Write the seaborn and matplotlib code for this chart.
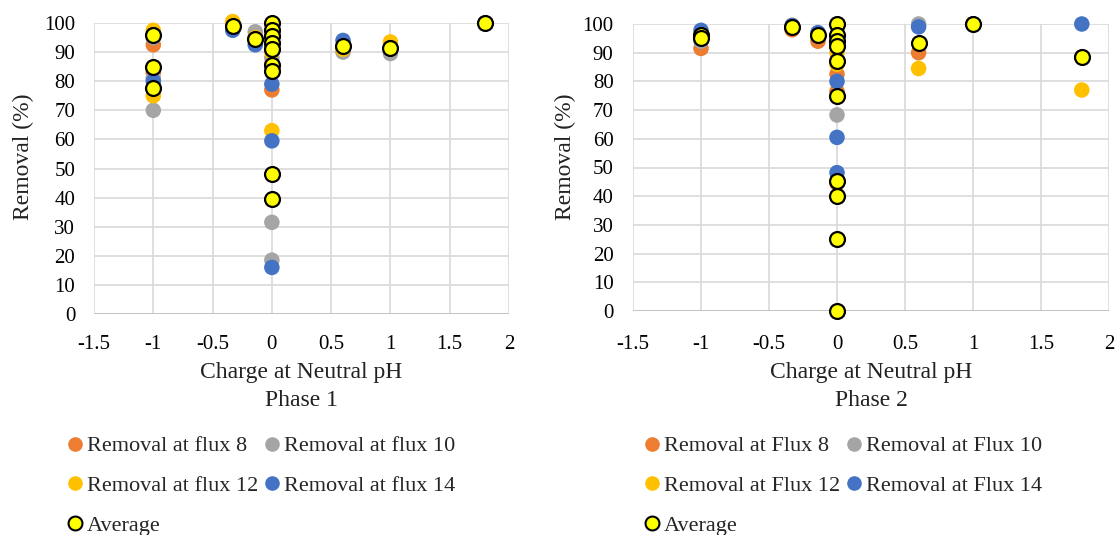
import numpy as np
import pandas as pd
import seaborn as sns
import matplotlib
matplotlib.use("Agg")
import matplotlib.pyplot as plt
from matplotlib.lines import Line2D

# ---------------- Data ----------------
# Phase 1
p1_f8_x = [-1, -1, -0.33, -0.14, 0, 0, 0, 0, 0.6, 1, 1.8]
p1_f8_y = [92.5, 83, 99, 95, 77, 97, 92, 86, 91, 91, 100]
p1_f10_x = [-1, -1, -1, -0.33, -0.14, 0, 0, 0, 0, 0.6, 1, 1.8]
p1_f10_y = [95, 81, 70, 99, 97, 31.5, 18.5, 95, 88, 90, 89.5, 100]
p1_f12_x = [-1, -1, -0.33, -0.14, 0, 0, 0, 0.6, 1, 1.8]
p1_f12_y = [97.5, 75, 100.5, 95, 63, 96, 90, 91, 93.5, 100]
p1_f14_x = [-1, -1, -0.33, -0.14, 0, 0, 0, 0, 0.6, 1, 1.8]
p1_f14_y = [96, 80, 97.5, 92.5, 79, 59.5, 16, 94, 94, 91.5, 100]
p1_avg_x = [-1, -1, -1, -0.33, -0.14, 0, 0, 0, 0, 0, 0, 0, 0, 0, 0.6, 1, 1.8]
p1_avg_y = [96, 85, 77.5, 99, 94.5, 100, 97.5, 95.5, 93, 91, 85.5, 83.5, 48, 39.5, 92, 91.5, 100]

# Phase 2
p2_f8_x = [-1, -0.33, -0.14, 0, 0, 0, 0, 0.6, 1, 1.8]
p2_f8_y = [91.5, 98, 94, 82.5, 76.5, 44.5, 95, 90, 100, 88.5]
p2_f10_x = [-1, -0.33, -0.14, 0, 0, 0.6, 1, 1.8]
p2_f10_y = [94, 99, 96, 68.3, 93, 100, 100, 88.5]
p2_f12_x = [-1, -0.33, -0.14, 0, 0, 0.6, 1, 1.8]
p2_f12_y = [96, 99.5, 96, 90, 86, 84.5, 100, 77]
p2_f14_x = [-1, -0.33, -0.14, 0, 0, 0, 0.6, 1, 1.8]
p2_f14_y = [97.8, 99.5, 97, 80, 60.5, 48.2, 99, 100, 100]
p2_avg_x = [-1, -1, -0.33, -0.14, 0, 0, 0, 0, 0, 0, 0, 0, 0, 0, 0.6, 1, 1.8]
p2_avg_y = [96, 95, 99, 96, 100, 96, 94, 92.5, 87, 75, 45.3, 40, 25, 0, 93.5, 100, 88.5]

series_keys = ["f8", "f10", "f12", "f14"]
flux_values = [8, 10, 12, 14]
colors = {"f8": "#ED7D31", "f10": "#A5A5A5", "f12": "#FFC000", "f14": "#4472C4"}

def tidy(parts):
    rows = []
    for key, xs, ys in parts:
        for x, y in zip(xs, ys):
            rows.append({"series": key, "x": x, "y": y})
    return pd.DataFrame(rows)

df1 = tidy([("f8", p1_f8_x, p1_f8_y), ("f10", p1_f10_x, p1_f10_y),
            ("f12", p1_f12_x, p1_f12_y), ("f14", p1_f14_x, p1_f14_y)])
df2 = tidy([("f8", p2_f8_x, p2_f8_y), ("f10", p2_f10_x, p2_f10_y),
            ("f12", p2_f12_x, p2_f12_y), ("f14", p2_f14_x, p2_f14_y)])
avg1 = pd.DataFrame({"x": p1_avg_x, "y": p1_avg_y})
avg2 = pd.DataFrame({"x": p2_avg_x, "y": p2_avg_y})

sns.set_theme(style="white")
plt.rcParams["font.family"] = ["Liberation Serif", "DejaVu Serif"]

W, H = 1116, 535
fig = plt.figure(figsize=(W / 100, H / 100), dpi=100)
ax1 = fig.add_axes([94 / W, 1 - 314 / H, 415 / W, 291 / H])
ax2 = fig.add_axes([633 / W, 1 - 311 / H, 476 / W, 287 / H])

def draw(ax, df, avg, phase, xpad, ypad, ylab_xy, xlab_y):
    for key in series_keys:
        sub = df[df["series"] == key]
        sns.scatterplot(data=sub, x="x", y="y", ax=ax, color=colors[key], s=125,
                        edgecolor="none", linewidth=0, clip_on=False, zorder=3, legend=False)
    sns.scatterplot(data=avg, x="x", y="y", ax=ax, color="#FFFF00", s=115,
                    edgecolor="black", linewidth=1.6, clip_on=False, zorder=4, legend=False)
    ax.set_xlim(-1.5, 2)
    ax.set_ylim(0, 100)
    ax.set_xticks(np.arange(-1.5, 2.01, 0.5))
    ax.set_xticklabels(["-1.5", "-1", "-0.5", "0", "0.5", "1", "1.5", "2"])
    ax.set_yticks(np.arange(0, 101, 10))
    ax.grid(True, color="#D9D9D9", linewidth=1.2)
    ax.set_axisbelow(True)
    for sp in ax.spines.values():
        sp.set_visible(False)
    ax.tick_params(axis="both", length=0, labelsize=15, colors="black")
    ax.tick_params(axis="x", pad=xpad)
    ax.tick_params(axis="y", pad=ypad)
    ax.set_xlabel(f"Charge at Neutral pH\nPhase {phase}", fontsize=17, color="#222222",
                  linespacing=1.45)
    ax.xaxis.set_label_coords(0.5, xlab_y)
    ax.set_ylabel("Removal (%)", fontsize=17, color="#222222")
    ax.yaxis.set_label_coords(*ylab_xy)
    ax.axhline(0, color="#BFBFBF", linewidth=1.2, zorder=1)

draw(ax1, df1, avg1, 1, 15.3, 13.5, (-0.145, 0.54), (314 - 362) / 291)
draw(ax2, df2, avg2, 2, 17.3, 14.0, (-0.12, 0.537), (311 - 362) / 287)

def make_legend(word, x0):
    h = {}
    for key, n in zip(series_keys, flux_values):
        h[key] = Line2D([], [], marker="o", linestyle="none", markersize=10.5,
                        markerfacecolor=colors[key], markeredgecolor="none",
                        label=f"Removal at {word} {n}")
    h["avg"] = Line2D([], [], marker="o", linestyle="none", markersize=10,
                      markerfacecolor="#FFFF00", markeredgecolor="black",
                      markeredgewidth=1.5, label="Average")
    handles = [h["f8"], h["f12"], h["avg"], h["f10"], h["f14"]]
    fig.legend(handles=handles, ncol=2, loc="upper left",
               bbox_to_anchor=(x0 / W, 1 - 427 / H), frameon=False,
               fontsize=16, handletextpad=0.05, columnspacing=0.1,
               labelspacing=0.86, handlelength=1.0, borderaxespad=0, borderpad=0.4)

make_legend("flux", 55)
make_legend("Flux", 632)

fig.savefig("out.png", dpi=100, facecolor="white")
